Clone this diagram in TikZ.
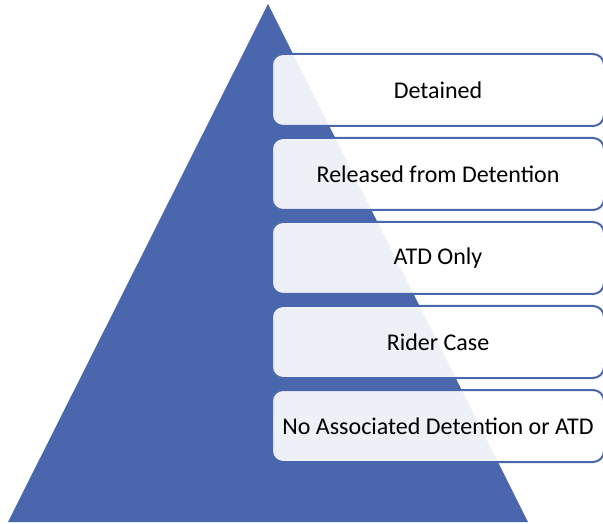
\documentclass[tikz,border=0pt]{standalone}
\usepackage{fontspec}
\setmainfont{Carlito}
\definecolor{pyrblue}{HTML}{4A67AD}
\tikzset{
  x=1pt,y=1pt,
  tier/.style={draw=pyrblue, line width=2pt, fill=white, fill opacity=0.9, text opacity=1,
    rounded corners=11pt, minimum width=332pt, minimum height=72pt, anchor=north west,
    font=\fontsize{24}{28}\selectfont, text=black, inner sep=0pt}
}
\begin{document}
\begin{tikzpicture}
\useasboundingbox (0,0) rectangle (603,523);
\begin{scope}
\clip (0,0) rectangle (603,523);
\fill[pyrblue] (268,519) coordinate (apex) -- (528,1) coordinate (br) -- (8,1) coordinate (bl) -- cycle;
\node[tier] (t1) at (271,470) {Detained};
\node[tier] (t2) at (271,386) {Released from Detention};
\node[tier] (t3) at (271,302) {ATD Only};
\node[tier] (t4) at (271,218) {Rider Case};
\node[tier] (t5) at (271,134) {No Associated Detention or ATD};
\end{scope}
\end{tikzpicture}
\end{document}
